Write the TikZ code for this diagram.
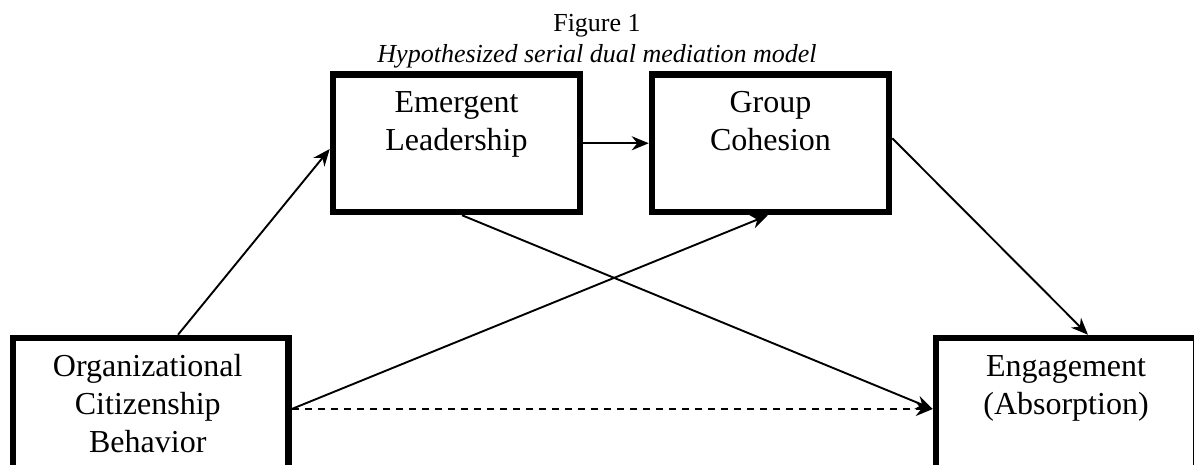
\documentclass[tikz,border=0pt]{standalone}
\usepackage{fontspec}
\setmainfont{Liberation Serif}
\usetikzlibrary{arrows.meta}
\tikzset{
  boxnode/.style={draw, line width=6.5pt, rectangle, inner sep=0pt},
  boxtext/.style={anchor=north, inner sep=0pt, align=center, font=\fontsize{32}{38}\selectfont},
  titletext/.style={anchor=north, inner sep=0pt, align=center, font=\fontsize{26}{30.5}\selectfont},
  conn/.style={line width=1.9pt, -{Stealth[length=17pt,width=14pt,inset=5.5pt]}},
  dashconn/.style={conn, dash pattern=on 7pt off 6pt},
}
\begin{document}
\begin{tikzpicture}[x=1pt,y=-1pt]
\path[use as bounding box, clip] (0,0) rectangle (1194,465);
\fill[white] (0,0) rectangle (1194,465);

\node[titletext] (title) at (597,11.5) {\rule{0pt}{20pt}Figure 1\\\textit{Hypothesized serial dual mediation model}};

% boxes
\node[boxnode, minimum width=247pt, minimum height=137.5pt] (emg) at (456.5,143.25) {};
\node[boxnode, minimum width=237pt, minimum height=137.5pt] (grp) at (770.5,143.25) {};
\node[boxnode, minimum width=275.5pt, minimum height=142pt] (ocb) at (150.75,409) {};
\node[boxnode, minimum width=260pt, minimum height=142pt] (eng) at (1066,409) {};

% box texts
\node[boxtext, yshift=-17.25pt] (emgtxt) at (emg.north) {\rule{0pt}{24pt}Emergent\\Leadership};
\node[boxtext, yshift=-17.25pt] (grptxt) at (grp.north) {\rule{0pt}{24pt}Group\\Cohesion};
\node[boxtext, yshift=-17.25pt, xshift=-3pt] (ocbtxt) at (ocb.north) {\rule{0pt}{24pt}Organizational\\Citizenship\\Behavior};
\node[boxtext, yshift=-17.25pt] (engtxt) at (eng.north) {\rule{0pt}{24pt}Engagement\\(Absorption)};

% connectors
\draw[conn] ([xshift=27.25pt]ocb.north) -- ([yshift=-5.75pt]emg.west);
\draw[conn] (emg.east) -- (grp.west);
\draw[conn] (ocb.east) -- ([xshift=-2.5pt]grp.south);
\draw[conn] ([xshift=5.5pt]emg.south) -- (eng.west);
\draw[conn] ([yshift=5pt]grp.east) -- ([xshift=22pt]eng.north);
\draw[dashconn] (ocb.east) -- (eng.west);
\end{tikzpicture}
\end{document}
